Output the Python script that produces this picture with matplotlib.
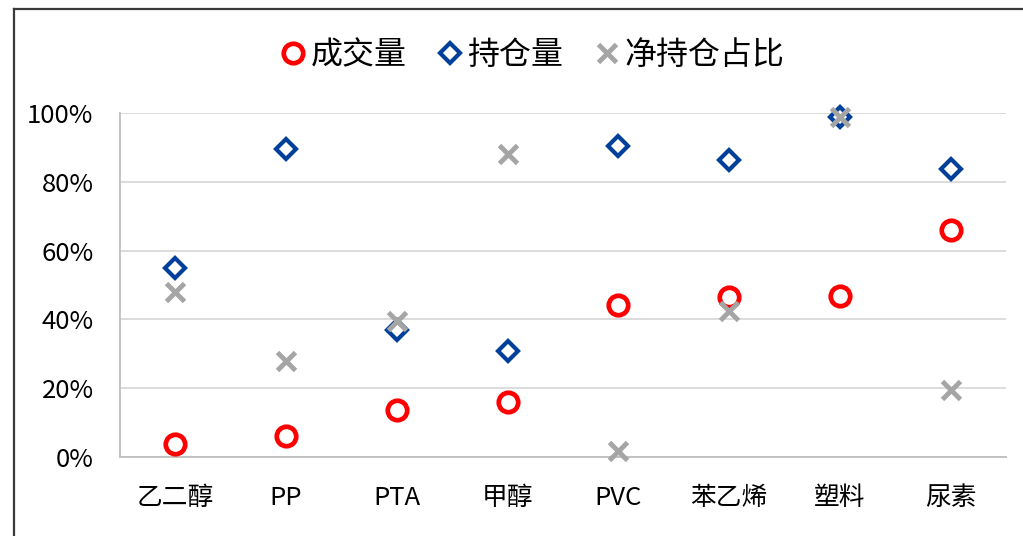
import matplotlib.pyplot as plt
from matplotlib.lines import Line2D
from matplotlib.ticker import PercentFormatter

plt.rcParams['font.family'] = ['Noto Sans CJK SC', 'DejaVu Sans']

categories = ['乙二醇', 'PP', 'PTA', '甲醇', 'PVC', '苯乙烯', '塑料', '尿素']
volume = [3.8, 6.0, 13.6, 16.0, 44.3, 46.4, 46.7, 66.0]
open_interest = [55.0, 89.6, 36.8, 30.7, 90.4, 86.4, 98.8, 83.8]
net_ratio = [48.1, 27.8, 39.4, 88.1, 1.7, 42.3, 98.8, 19.4]

fig = plt.figure(figsize=(10.23, 5.36), dpi=100)
ax = fig.add_axes([120 / 1023, 79 / 536, 886 / 1023, 344 / 536])

x = range(len(categories))
ax.plot(x, volume, linestyle='none', marker='o', markersize=14, markerfacecolor='white',
        markeredgecolor='#FF0000', markeredgewidth=3.4, label='成交量', clip_on=False, zorder=3)
ax.plot(x, open_interest, linestyle='none', marker='D', markersize=10.5, markerfacecolor='white',
        markeredgecolor='#00409A', markeredgewidth=3.0, label='持仓量', clip_on=False, zorder=3)
ax.plot(x, net_ratio, linestyle='none', marker='x', markersize=13, markeredgecolor='#A5A5A5',
        markeredgewidth=3.5, label='净持仓占比', clip_on=False, zorder=4)

ax.set_xlim(-0.5, len(categories) - 0.5)
ax.set_ylim(0, 100)
ax.set_yticks([0, 20, 40, 60, 80, 100])
ax.yaxis.set_major_formatter(PercentFormatter(decimals=0))
ax.set_xticks(list(x))
ax.set_xticklabels(categories)
ax.tick_params(axis='both', length=0, labelsize=18.5, colors='black')
ax.tick_params(axis='x', pad=20)
ax.tick_params(axis='y', pad=19)

ax.grid(axis='y', color='#D9D9D9', linewidth=1.3)
ax.set_axisbelow(True)
for side in ['top', 'right']:
    ax.spines[side].set_visible(False)
for side in ['left', 'bottom']:
    ax.spines[side].set_color('#BFBFBF')
    ax.spines[side].set_linewidth(1.3)

fig.legend(loc='center', bbox_to_anchor=(530 / 1023, 1 - 55 / 536), ncol=3, frameon=False,
           fontsize=23, handletextpad=0.0, columnspacing=0.8, handlelength=1.1)

# outer chart border (left and top edges only visible)
bx, by = 14 / 1023, 1 - 9 / 536
fig.add_artist(Line2D([bx, bx], [0, by], transform=fig.transFigure, color='#3A3A3A', linewidth=1.6))
fig.add_artist(Line2D([bx, 1.05], [by, by], transform=fig.transFigure, color='#3A3A3A', linewidth=1.6))

fig.savefig('out.png', dpi=100)
